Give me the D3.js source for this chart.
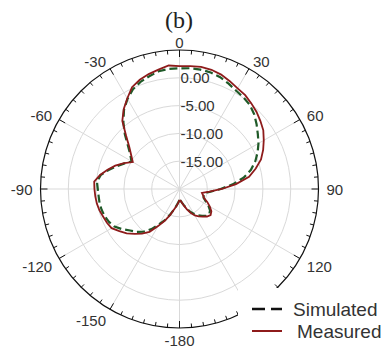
<!DOCTYPE html>
<html>
<head>
<meta charset="utf-8">
<script src="https://cdn.jsdelivr.net/npm/d3@7"></script>
<style>
  html, body { margin: 0; padding: 0; background: #fff; }
  svg { display: block; }
</style>
</head>
<body>
<div id="chart"></div>
<script>
// angles in degrees, 0 at top, clockwise
const angles = d3.range(-180, 181, 5);

// gain in dB, every 5 degrees
const measured = [
  -18.0, -17.5, -16.9, -16.2, -15.0, -13.7, -12.3, -10.6, -9.5, -8.6,
  -7.6, -6.8, -5.9, -5.6, -5.4, -5.1, -4.9, -4.8, -4.7, -4.6,
  -5.5, -6.6, -7.7, -9.0, -10.3, -9.4, -8.2, -6.4, -4.0, -2.5,
  -1.2, 0.2, 0.9, 1.4, 1.8, 2.3, 2.1, 2.2, 2.3, 2.2,
  1.9, 1.4, 0.9, 0.6, 0.1, -0.4, -1.0, -1.6, -2.5, -3.4,
  -4.4, -5.8, -7.3, -9.8, -12.4, -14.6, -15.9, -15.6, -15.3, -14.5,
  -13.7, -13.0, -12.7, -13.0, -13.5, -14.0, -14.5, -15.3, -16.1, -16.9,
  -17.5, -17.9, -18.0
];

const simulated = [
  -18.0, -17.6, -17.0, -16.2, -15.1, -13.8, -12.7, -11.2, -10.0, -9.1,
  -8.4, -7.4, -6.5, -6.0, -5.7, -5.5, -5.4, -5.4, -5.3, -5.1,
  -5.6, -6.8, -8.0, -9.1, -10.0, -9.2, -7.9, -6.1, -4.3, -2.6,
  -1.3, -0.2, 0.5, 1.0, 1.5, 1.7, 1.7, 1.8, 1.8, 1.7,
  1.4, 0.9, 0.4, 0.1, -0.3, -1.0, -1.9, -2.8, -3.6, -4.5,
  -5.5, -6.7, -8.3, -10.4, -12.6, -14.4, -15.5, -15.5, -15.4, -14.8,
  -14.0, -13.3, -13.0, -13.2, -13.7, -14.2, -14.8, -15.5, -16.3, -17.0,
  -17.5, -17.9, -18.0
];

const ringValues = [-15, -10, -5, 0];
const ringLabels = ["-15.00", "-10.00", "-5.00", "0.00"];
const angleLabels = [0, 30, 60, 90, 120, -180, -150, -120, -90, -60, -30];
const seriesNames = ["Simulated", "Measured"];

const width = 385, height = 347;
const cx = 179.5, cy = 189;
const labelFont = "'Liberation Sans', Arial, sans-serif";

const svg = d3.select("#chart").append("svg")
  .attr("width", width)
  .attr("height", height);

const r = d3.scaleLinear().domain([-20, 5]).range([0, 139]);
const rad = d => d * Math.PI / 180;

const g = svg.append("g").attr("transform", "translate(" + cx + "," + cy + ")");

// grid rings
g.selectAll(".ring")
  .data(ringValues)
  .enter().append("circle")
  .attr("r", d => r(d))
  .attr("fill", "none")
  .attr("stroke", "#d9d9d9")
  .attr("stroke-width", 1);

// spokes
g.selectAll(".spoke")
  .data(d3.range(0, 360, 30))
  .enter().append("line")
  .attr("x1", 0).attr("y1", 0)
  .attr("x2", d => r(5) * Math.sin(rad(d)))
  .attr("y2", d => -r(5) * Math.cos(rad(d)))
  .attr("stroke", "#d9d9d9")
  .attr("stroke-width", 1);

// outer ring and ticks
g.append("circle")
  .attr("r", r(5))
  .attr("fill", "none")
  .attr("stroke", "#111")
  .attr("stroke-width", 1.2);

g.selectAll(".tick")
  .data(d3.range(0, 360, 5))
  .enter().append("line")
  .attr("x1", d => r(5) * Math.sin(rad(d)))
  .attr("y1", d => -r(5) * Math.cos(rad(d)))
  .attr("x2", d => (r(5) - (d % 30 === 0 ? 7 : 4)) * Math.sin(rad(d)))
  .attr("y2", d => -(r(5) - (d % 30 === 0 ? 7 : 4)) * Math.cos(rad(d)))
  .attr("stroke", "#111")
  .attr("stroke-width", 1);

// ring labels
g.selectAll(".rlabel")
  .data(ringValues)
  .enter().append("text")
  .attr("x", 1)
  .attr("y", d => -r(d))
  .attr("dominant-baseline", "central")
  .style("font", "15px " + labelFont)
  .attr("fill", "#333")
  .text((d, i) => ringLabels[i]);

// curves
const line = d3.lineRadial()
  .angle(d => rad(d[0]))
  .radius(d => r(d[1]));

g.append("path")
  .datum(angles.map((a, i) => [a, simulated[i]]))
  .attr("d", line)
  .attr("fill", "none")
  .attr("stroke", "#1f5a28")
  .attr("stroke-width", 2.2)
  .attr("stroke-dasharray", "8,4");

g.append("path")
  .datum(angles.map((a, i) => [a, measured[i]]))
  .attr("d", line)
  .attr("fill", "none")
  .attr("stroke", "#8e1b1b")
  .attr("stroke-width", 1.8);

// angle labels
g.selectAll(".alabel")
  .data(angleLabels)
  .enter().append("text")
  .attr("x", d => 147 * Math.sin(rad(d)))
  .attr("y", d => -147 * Math.cos(rad(d)) + (Math.cos(rad(d)) < -0.1 ? 4 : 0))
  .attr("text-anchor", d => {
    const s = Math.sin(rad(d));
    return s > 0.1 ? "start" : (s < -0.1 ? "end" : "middle");
  })
  .attr("dominant-baseline", "central")
  .style("font", "15px " + labelFont)
  .attr("fill", "#333")
  .text(d => d);

// title
svg.append("text")
  .attr("x", 179)
  .attr("y", 28)
  .attr("text-anchor", "middle")
  .style("font", "24px 'Liberation Serif', 'Times New Roman', serif")
  .attr("fill", "#222")
  .text("(b)");

// legend
const legend = svg.append("g");
legend.append("rect")
  .attr("x", 238).attr("y", 288)
  .attr("width", width - 238).attr("height", height - 288)
  .attr("fill", "#fff");

legend.append("line")
  .attr("x1", 252).attr("x2", 282)
  .attr("y1", 309).attr("y2", 309)
  .attr("stroke", "#111")
  .attr("stroke-width", 2.5)
  .attr("stroke-dasharray", "13,6");

legend.append("line")
  .attr("x1", 252).attr("x2", 282)
  .attr("y1", 331).attr("y2", 331)
  .attr("stroke", "#8e1b1b")
  .attr("stroke-width", 2);

legend.selectAll(".ltext")
  .data(seriesNames)
  .enter().append("text")
  .attr("x", (d, i) => i === 0 ? 293 : 297)
  .attr("y", (d, i) => i === 0 ? 309 : 331)
  .attr("dominant-baseline", "central")
  .style("font", "19px " + labelFont)
  .attr("fill", "#333")
  .text(d => d);
</script>
</body>
</html>
